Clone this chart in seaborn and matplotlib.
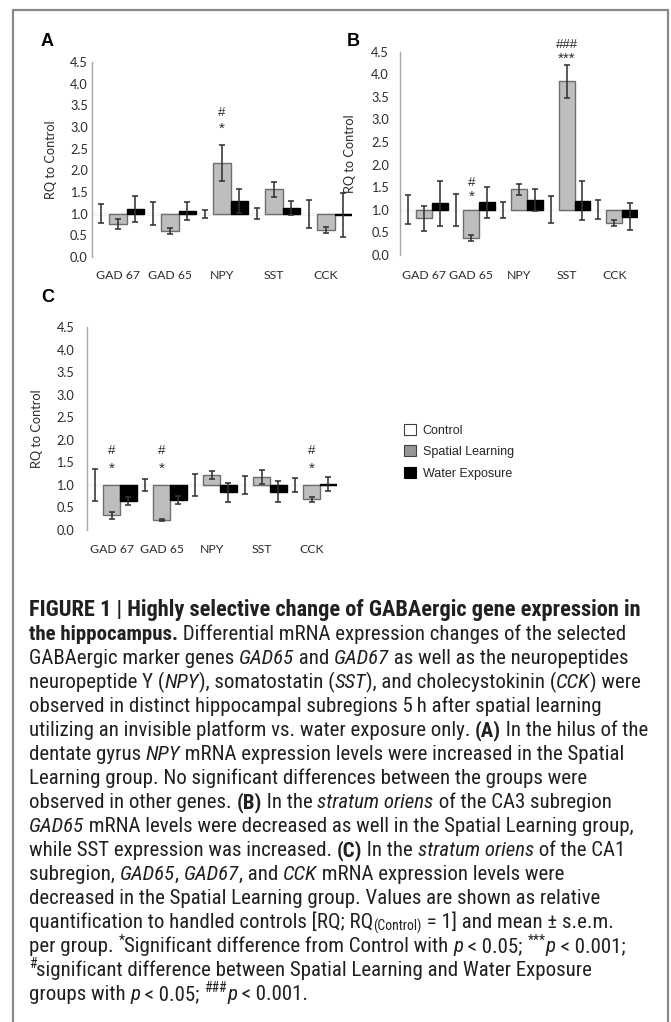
import numpy as np
import pandas as pd
import matplotlib
matplotlib.use("Agg")
import matplotlib.pyplot as plt
import seaborn as sns
from matplotlib.patches import Patch, Rectangle
from matplotlib import font_manager
from matplotlib.font_manager import FontProperties

# ---------------- data ----------------
genes = ["GAD 67", "GAD 65", "NPY", "SST", "CCK"]
groups = ["Control", "Spatial Learning", "Water Exposure"]
BASE = 1.0

# Panel A (hilus)
a_control = [1.0, 1.0, 1.0, 1.0, 1.0]
a_control_err = [0.22, 0.27, 0.09, 0.13, 0.32]
a_spatial = [0.76, 0.60, 2.17, 1.56, 0.63]
a_spatial_err = [0.12, 0.07, 0.42, 0.18, 0.07]
a_water = [1.11, 1.07, 1.29, 1.13, 0.97]
a_water_err = [0.30, 0.21, 0.28, 0.17, 0.50]
a_marks = [("NPY", "*", 2.97), ("NPY", "#", 3.33)]

# Panel B (CA3 stratum oriens)
b_control = [1.0, 1.0, 1.0, 1.0, 1.0]
b_control_err = [0.32, 0.36, 0.18, 0.30, 0.21]
b_spatial = [0.81, 0.37, 1.45, 3.85, 0.70]
b_spatial_err = [0.27, 0.065, 0.115, 0.365, 0.065]
b_water = [1.14, 1.17, 1.22, 1.20, 0.85]
b_water_err = [0.50, 0.345, 0.245, 0.43, 0.30]
b_marks = [("GAD 65", "*", 1.29), ("GAD 65", "#", 1.59),
           ("SST", "***", 4.34), ("SST", "###", 4.65)]

# Panel C (CA1 stratum oriens)
c_control = [1.0, 1.0, 1.0, 1.0, 1.0]
c_control_err = [0.36, 0.135, 0.24, 0.205, 0.155]
c_spatial = [0.33, 0.22, 1.22, 1.18, 0.68]
c_spatial_err = [0.075, 0.02, 0.095, 0.15, 0.055]
c_water = [0.65, 0.67, 0.84, 0.85, 1.02]
c_water_err = [0.09, 0.09, 0.21, 0.23, 0.155]
c_marks = [("GAD 67", "*", 1.35), ("GAD 67", "#", 1.75),
           ("GAD 65", "*", 1.35), ("GAD 65", "#", 1.75),
           ("CCK", "*", 1.35), ("CCK", "#", 1.75)]

yticks = [0.0, 0.5, 1.0, 1.5, 2.0, 2.5, 3.0, 3.5, 4.0, 4.5]

# caption: (text, style) with style n=normal, b=bold, i=italic, sup, sub
caption_lines = [
    [("FIGURE 1 | Highly selective change of GABAergic gene expression in", "b")],
    [("the hippocampus.", "b"), (" Differential mRNA expression changes of the selected", "n")],
    [("GABAergic marker genes ", "n"), ("GAD65", "i"), (" and ", "n"), ("GAD67", "i"),
     (" as well as the neuropeptides", "n")],
    [("neuropeptide Y (", "n"), ("NPY", "i"), ("), somatostatin (", "n"), ("SST", "i"),
     ("), and cholecystokinin (", "n"), ("CCK", "i"), (") were", "n")],
    [("observed in distinct hippocampal subregions 5\u2009h after spatial learning", "n")],
    [("utilizing an invisible platform vs. water exposure only. ", "n"), ("(A)", "b"),
     (" In the hilus of the", "n")],
    [("dentate gyrus ", "n"), ("NPY", "i"), (" mRNA expression levels were increased in the Spatial", "n")],
    [("Learning group. No significant differences between the groups were", "n")],
    [("observed in other genes. ", "n"), ("(B)", "b"), (" In the ", "n"), ("stratum oriens", "i"),
     (" of the CA3 subregion", "n")],
    [("GAD65", "i"), (" mRNA levels were decreased as well in the Spatial Learning group,", "n")],
    [("while SST expression was increased. ", "n"), ("(C)", "b"), (" In the ", "n"),
     ("stratum oriens", "i"), (" of the CA1", "n")],
    [("subregion, ", "n"), ("GAD65", "i"), (", ", "n"), ("GAD67", "i"), (", and ", "n"),
     ("CCK", "i"), (" mRNA expression levels were", "n")],
    [("decreased in the Spatial Learning group. Values are shown as relative", "n")],
    [("quantification to handled controls [RQ; RQ", "n"), ("(Control)", "sub"),
     (" = 1] and mean \u00b1 s.e.m.", "n")],
    [("per group. ", "n"), ("*", "sup"), ("Significant difference from Control with ", "n"),
     ("p", "i"), (" < 0.05; ", "n"), ("***", "sup"), ("p", "i"), (" < 0.001;", "n")],
    [("#", "sup"), ("significant difference between Spatial Learning and Water Exposure", "n")],
    [("groups with ", "n"), ("p", "i"), (" < 0.05; ", "n"), ("###", "sup"), ("p", "i"),
     (" < 0.001.", "n")],
]

# ---------------- style ----------------
sns.set_style("white")
names = {f.name for f in font_manager.fontManager.ttflist}
cap_family = next((f for f in ["Liberation Sans Narrow", "Roboto Condensed",
                               "Liberation Sans"] if f in names), "DejaVu Sans")
chart_family = "Lato" if "Lato" in names else "DejaVu Sans"
plt.rcParams["font.family"] = [chart_family, "DejaVu Sans"]

W, H = 671, 1022
fig = plt.figure(figsize=(W / 100, H / 100), dpi=100)
fig.patch.set_facecolor("white")

face = {"Control": "white", "Spatial Learning": "#BEBEBE", "Water Exposure": "black"}
edge = {"Control": "white", "Spatial Learning": "#6E6E6E", "Water Exposure": "black"}
ERR_C = "#333333"
TXT_C = "#2B2B2B"


def px_axes(left, top, width, height):
    return fig.add_axes([left / W, 1 - (top + height) / H, width / W, height / H])


def draw_panel(ax, ctrl, ctrl_err, sl, sl_err, we, we_err, marks,
               ypad, xpad, ylab_px):
    vals = [ctrl, sl, we]
    errs = [ctrl_err, sl_err, we_err]
    df = pd.DataFrame({
        "gene": genes * 3,
        "group": np.repeat(groups, len(genes)),
        "value": np.concatenate(vals),
    })
    df["delta"] = df["value"] - BASE
    sns.barplot(data=df, x="gene", y="delta", hue="group", order=genes,
                hue_order=groups, palette=face, saturation=1, width=1.0,
                errorbar=None, bottom=BASE, linewidth=1.0, legend=False,
                ax=ax, zorder=2)
    centers = {}
    for cont, grp, v, e in zip(ax.containers, groups, vals, errs):
        xs = []
        for p in cont.patches:
            p.set_edgecolor(edge[grp])
            xs.append(p.get_x() + p.get_width() / 2)
        centers[grp] = dict(zip(genes, xs))
        ax.errorbar(xs, v, yerr=e, fmt="none", ecolor=ERR_C, elinewidth=1.15,
                    capsize=2.5, capthick=1.15, zorder=5)
    ax.axhline(BASE, color="#ABABAB", lw=1.0, zorder=1)
    for gene, sym, y in marks:
        ax.text(centers["Spatial Learning"][gene], y, sym, ha="center",
                va="center", fontsize=11 if "*" in sym else 9.5,
                family="Liberation Sans", color=TXT_C, clip_on=False)
    ax.set_xlim(-0.5, len(genes) - 0.5)
    ax.set_ylim(0, 4.5)
    ax.set_yticks(yticks)
    ax.set_yticklabels([f"{t:.1f}" for t in yticks])
    ax.tick_params(axis="y", length=0, pad=ypad, labelsize=9.2, labelcolor=TXT_C)
    ax.tick_params(axis="x", length=0, pad=xpad, labelsize=8.8, labelcolor=TXT_C)
    for s in ["top", "right", "bottom"]:
        ax.spines[s].set_visible(False)
    ax.spines["left"].set_color("#A8A8A8")
    ax.spines["left"].set_linewidth(1.0)
    ax.set_xlabel("")
    ax.set_ylabel("RQ to Control", fontsize=9.2, color=TXT_C)
    pos = ax.get_position()
    ax.yaxis.set_label_coords(ylab_px / (pos.width * W), 0.5)
    ax.grid(False)
    ax.set_facecolor("none")


axA = px_axes(92, 62, 260, 195)
draw_panel(axA, a_control, a_control_err, a_spatial, a_spatial_err,
           a_water, a_water_err, a_marks, ypad=3.0, xpad=9.5, ylab_px=-35)

axB = px_axes(400, 51.7, 238, 203.3)
draw_panel(axB, b_control, b_control_err, b_spatial, b_spatial_err,
           b_water, b_water_err, b_marks, ypad=8.0, xpad=11, ylab_px=-43.5)

axC = px_axes(86.7, 327.3, 250, 202.7)
draw_panel(axC, c_control, c_control_err, c_spatial, c_spatial_err,
           c_water, c_water_err, c_marks, ypad=9.0, xpad=10, ylab_px=-43.7)

# panel letters
for letter, x, yb in [("A", 40.7, 46), ("B", 347, 46), ("C", 41, 302)]:
    fig.text(x / W, 1 - yb / H, letter, fontsize=13, fontweight="bold",
             family="Liberation Sans", va="baseline", ha="left", color="black")

# legend
handles = [Patch(facecolor="white", edgecolor="#404040", lw=0.8),
           Patch(facecolor="#969696", edgecolor="#404040", lw=0.8),
           Patch(facecolor="black", edgecolor="black", lw=0.8)]
fig.legend(handles, groups, loc="upper left",
           bbox_to_anchor=(404 / W, 1 - 424 / H), frameon=False,
           prop={"family": "Liberation Sans", "size": 9},
           handlelength=0.95, handleheight=0.95, handletextpad=0.55,
           labelspacing=0.70, borderpad=0, borderaxespad=0)

# frame
fig.add_artist(Rectangle((13 / W, -0.05), (668 - 13) / W, (H - 10) / H + 0.05,
                         transform=fig.transFigure, fill=False,
                         edgecolor="#8A8A8A", lw=1.6, clip_on=False))

# ---------------- caption (rich text laid out segment by segment) ----------------
renderer = fig.canvas.get_renderer()


def seg_prop(style, size):
    if style == "b":
        return FontProperties(family=cap_family, weight="bold", size=size)
    if style == "i":
        return FontProperties(family=cap_family, style="italic", size=size)
    if style in ("sup", "sub"):
        return FontProperties(family=cap_family, size=size * 0.66)
    return FontProperties(family=cap_family, size=size)


def advance(s, prop):
    w1 = renderer.get_text_width_height_descent(s + "|", prop, ismath=False)[0]
    w2 = renderer.get_text_width_height_descent("|", prop, ismath=False)[0]
    return w1 - w2


def line_width(segs, size):
    return sum(advance(t, seg_prop(st, size)) for t, st in segs)


cap_size = 10 * 611 / line_width(caption_lines[3], 10)
first_size = min(cap_size * 1.08, 10 * 611 / line_width(caption_lines[0], 10))
CAP_C = "#231F20"

for i, segs in enumerate(caption_lines):
    size = first_size if i == 0 else cap_size
    size_px = size * 100 / 72
    yb = 616 + 24 * i
    x = 29.0
    for txt, st in segs:
        prop = seg_prop(st, size)
        dy = 0.0
        if st == "sup":
            dy = -0.36 * size_px
        elif st == "sub":
            dy = 0.14 * size_px
        fig.text(x / W, 1 - (yb + dy) / H, txt, fontproperties=prop,
                 va="baseline", ha="left", color=CAP_C)
        x += advance(txt, prop)

fig.savefig("out.png", dpi=100, facecolor="white")
